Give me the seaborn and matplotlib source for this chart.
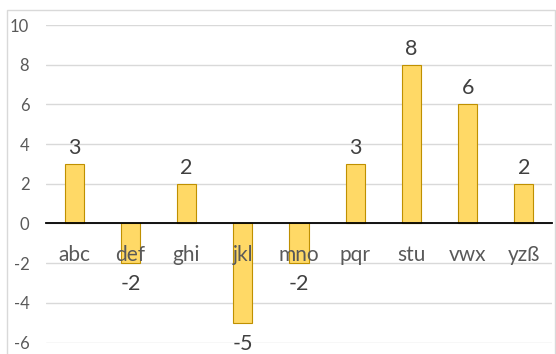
import matplotlib
matplotlib.use("Agg")
import matplotlib.pyplot as plt
from matplotlib.patches import Rectangle
import seaborn as sns
import pandas as pd

categories = ["abc", "def", "ghi", "jkl", "mno", "pqr", "stu", "vwx", "yzß"]
values = [3, -2, 2, -5, -2, 3, 8, 6, 2]
y_ticks = [-6, -4, -2, 0, 2, 4, 6, 8, 10]

sns.set_theme(style="white")
plt.rcParams["font.family"] = ["Lato", "DejaVu Sans"]

text_color = "#595959"
label_color = "#404040"
grid_color = "#D9D9D9"
bar_fill = "#FFD966"
bar_edge = "#BF9000"

df = pd.DataFrame({"category": categories, "value": values})

fig = plt.figure(figsize=(5.56, 3.54), dpi=100)
ax = fig.add_axes([46 / 556, 1 - 342.5 / 354, (552 - 46) / 556, (342.5 - 25) / 354])

# outer chart frame
fig.patches.append(Rectangle((7 / 556, -0.1), (555 - 7) / 556, 1.1 - 10 / 354,
                             transform=fig.transFigure, fill=False,
                             edgecolor=grid_color, linewidth=1.0, zorder=0))

sns.barplot(data=df, x="category", y="value", ax=ax, color=bar_fill,
            edgecolor=bar_edge, linewidth=0.8, width=0.34, saturation=1)

ax.set_ylim(-6, 10)
ax.set_xlim(-0.5, len(categories) - 0.5)
ax.set_yticks(y_ticks)
ax.set_yticklabels([str(t) for t in y_ticks])
ax.set_xlabel("")
ax.set_ylabel("")

ax.yaxis.grid(True, color=grid_color, linewidth=1.0)
ax.set_axisbelow(True)

for side in ("top", "right", "left"):
    ax.spines[side].set_visible(False)
ax.spines["bottom"].set_position(("data", 0))
ax.spines["bottom"].set_color("black")
ax.spines["bottom"].set_linewidth(1.3)
ax.spines["bottom"].set_zorder(3)

ax.tick_params(axis="x", length=0, labelbottom=False)
ax.tick_params(axis="y", length=0, pad=12, labelsize=12, colors=text_color)

# category names sit just under the zero line, in front of the bars
for i, name in enumerate(categories):
    ax.annotate(name, (i, 0), xytext=(0, -27.4), textcoords="offset points",
                ha="center", va="baseline", fontsize=15, color=text_color,
                zorder=5)

# value labels above positive bars, below negative ones
for i, v in enumerate(values):
    if v >= 0:
        ax.annotate(str(v), (i, v), xytext=(0, 7.2), textcoords="offset points",
                    ha="center", va="baseline", fontsize=15.5, color=label_color,
                    zorder=5)
    else:
        ax.annotate(str(v), (i, v), xytext=(0, -19.4), textcoords="offset points",
                    ha="center", va="baseline", fontsize=15.5, color=label_color,
                    zorder=5)

fig.savefig("out.png", dpi=100)
